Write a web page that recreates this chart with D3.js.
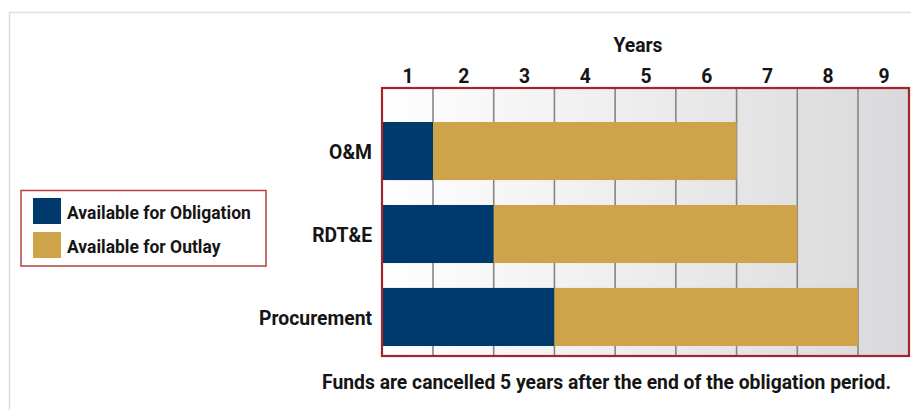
<!DOCTYPE html>
<html>
<head>
<meta charset="utf-8">
<script src="https://cdn.jsdelivr.net/npm/d3@7"></script>
<style>
  html, body { margin: 0; padding: 0; background: #ffffff; }
  svg { display: block; }
  text { font-family: "Roboto", "Liberation Sans", sans-serif; font-weight: bold; fill: #151515; }
</style>
</head>
<body>
<svg id="chart" width="911" height="410"></svg>
<script>
// Appropriation types and how many years each kind of availability lasts
const categories = ["O&M", "RDT&E", "Procurement"];
const obligationYears = [1, 2, 3];
const outlayYears = [5, 5, 5];
const yearLabels = ["1", "2", "3", "4", "5", "6", "7", "8", "9"];
const seriesNames = ["Available for Obligation", "Available for Outlay"];
const seriesColors = ["#003a6c", "#cfa34a"];
const axisTitle = "Years";
const footnote = "Funds are cancelled 5 years after the end of the obligation period.";

// squeeze text horizontally to get a condensed face
const CONDENSE = 0.92;
function condense(sel) {
  sel.each(function () {
    const w = this.getComputedTextLength();
    d3.select(this).attr("textLength", w * CONDENSE).attr("lengthAdjust", "spacingAndGlyphs");
  });
}

const svg = d3.select("#chart");

// outer card frame
svg.append("rect")
  .attr("x", 9.5).attr("y", 12.5)
  .attr("width", 1000).attr("height", 500)
  .attr("fill", "#ffffff")
  .attr("stroke", "#dedede").attr("stroke-width", 1.5);

const plot = { left: 382, right: 909, top: 88, bottom: 356 };

// the first and last year columns are a bit narrower than the inner ones
const x = d3.scaleLinear()
  .domain([0, 1, yearLabels.length - 1, yearLabels.length])
  .range([plot.left, 433, 858, plot.right]);

const y = d3.scaleBand()
  .domain(categories)
  .range([122, 346])
  .paddingInner(0.3)
  .paddingOuter(0);

// background gradient across the year columns
const defs = svg.append("defs");
const grad = defs.append("linearGradient").attr("id", "colShade")
  .attr("x1", "0%").attr("x2", "100%").attr("y1", "0%").attr("y2", "0%");
grad.append("stop").attr("offset", "0%").attr("stop-color", "#ffffff");
grad.append("stop").attr("offset", "100%").attr("stop-color", "#d9d9db");

svg.append("rect")
  .attr("x", plot.left).attr("y", plot.top)
  .attr("width", plot.right - plot.left).attr("height", plot.bottom - plot.top)
  .attr("fill", "url(#colShade)");

// column separators
svg.append("g").selectAll("line")
  .data(d3.range(1, yearLabels.length))
  .join("line")
  .attr("x1", d => x(d)).attr("x2", d => x(d))
  .attr("y1", plot.top).attr("y2", plot.bottom)
  .attr("stroke", "#858585").attr("stroke-width", 1.6);

// stacked bars: obligation period followed by the outlay period
const rows = categories.map((c, i) => ({
  cat: c,
  segs: [
    { start: 0, end: obligationYears[i], color: seriesColors[0] },
    { start: obligationYears[i], end: obligationYears[i] + outlayYears[i], color: seriesColors[1] }
  ]
}));

svg.append("g").selectAll("g")
  .data(rows)
  .join("g")
  .selectAll("rect")
  .data(d => d.segs.map(s => ({ ...s, cat: d.cat })))
  .join("rect")
  .attr("x", d => x(d.start))
  .attr("width", d => x(d.end) - x(d.start))
  .attr("y", d => y(d.cat))
  .attr("height", y.bandwidth())
  .attr("fill", d => d.color);

// plot border
svg.append("rect")
  .attr("x", plot.left).attr("y", plot.top)
  .attr("width", plot.right - plot.left).attr("height", plot.bottom - plot.top)
  .attr("fill", "none")
  .attr("stroke", "#a3252a").attr("stroke-width", 2.2);

// year labels along the top
const topAxis = d3.axisTop(x)
  .tickValues(d3.range(yearLabels.length).map(i => i + 0.5))
  .tickFormat((d, i) => yearLabels[i])
  .tickSize(0).tickPadding(0);
const ax = svg.append("g").attr("transform", `translate(0, 82.5)`).call(topAxis);
ax.select(".domain").remove();
ax.selectAll("text")
  .attr("font-size", 21)
  .attr("dy", 0)
  .style("font-family", null)
  .attr("fill", "#151515")
  .call(condense);

svg.append("text")
  .attr("x", 638).attr("y", 51.5)
  .attr("text-anchor", "middle")
  .attr("font-size", 21)
  .text(axisTitle)
  .call(condense);

// category labels on the left
const leftAxis = d3.axisLeft(y).tickSize(0).tickPadding(10);
const ay = svg.append("g").attr("transform", `translate(${plot.left}, 0)`).call(leftAxis);
ay.select(".domain").remove();
ay.selectAll("text")
  .attr("font-size", 21)
  .attr("dy", "0.38em")
  .style("font-family", null)
  .attr("fill", "#151515")
  .call(condense);

// legend
const legend = svg.append("g");
legend.append("rect")
  .attr("x", 21).attr("y", 190.5)
  .attr("width", 245).attr("height", 75.5)
  .attr("fill", "#ffffff")
  .attr("stroke", "#b2433c").attr("stroke-width", 1.5);
const li = legend.selectAll("g.item")
  .data(seriesNames)
  .join("g").attr("class", "item")
  .attr("transform", (d, i) => `translate(33, ${198 + i * 34})`);
li.append("rect")
  .attr("width", 28).attr("height", 26)
  .attr("fill", (d, i) => seriesColors[i]);
li.append("text")
  .attr("x", 34).attr("y", 20.5)
  .attr("font-size", 19)
  .text(d => d)
  .call(condense);

// footnote, narrowed with a horizontal scale around its right end
svg.append("g")
  .attr("transform", `translate(891, 389) scale(${CONDENSE}, 1)`)
  .append("text")
  .attr("x", 0).attr("y", 0)
  .attr("text-anchor", "end")
  .attr("font-size", 21)
  .text(footnote);
</script>
</body>
</html>
